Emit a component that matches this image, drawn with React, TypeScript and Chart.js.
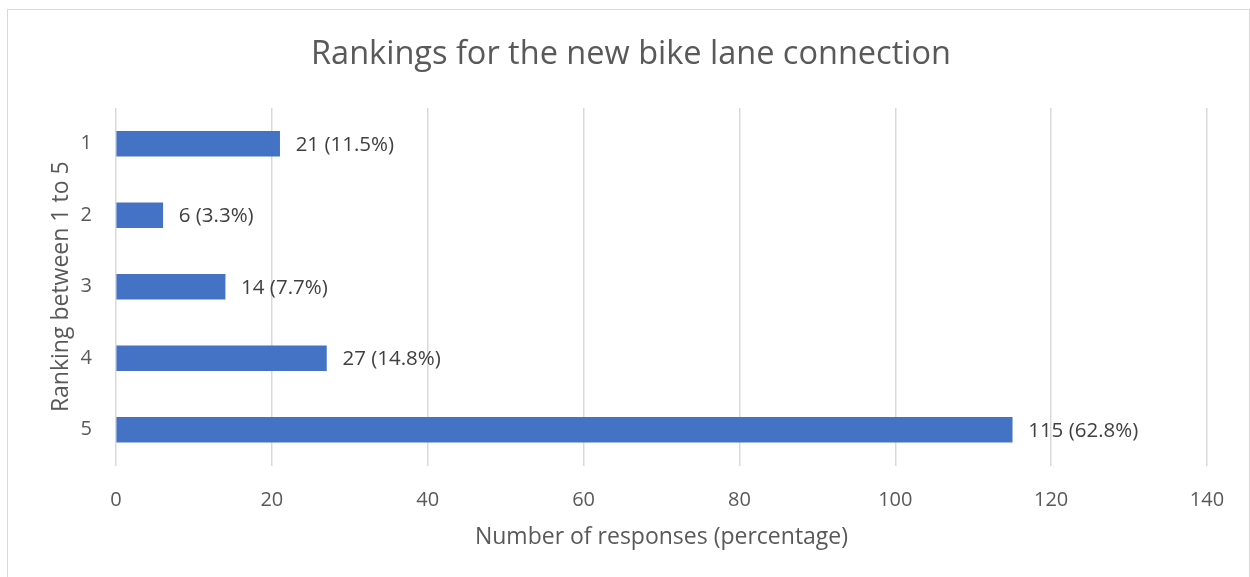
import React, { useEffect, useRef } from "react";
import { Chart, registerables } from "chart.js";

Chart.register(...registerables);

const categories = ["1", "2", "3", "4", "5"];
const responses = [21, 6, 14, 27, 115];
const percentages = ["11.5%", "3.3%", "7.7%", "14.8%", "62.8%"];
const xTicks = [0, 20, 40, 60, 80, 100, 120, 140];
const chartTitle = "Rankings for the new bike lane connection";

const FONT = "'Open Sans', Lato, sans-serif";
const TEXT = "#595959";

const W = 1250;
const H = 577;
const AREA_LEFT = 116;
const AREA_RIGHT = 1207;
const AREA_TOP = 108;
const AREA_BOTTOM = 465.5;

const borderPlugin = {
  id: "outerBorder",
  beforeDraw(chart: any) {
    const ctx = chart.ctx;
    ctx.save();
    ctx.fillStyle = "#ffffff";
    ctx.fillRect(0, 0, chart.width, chart.height);
    ctx.strokeStyle = "#d9d9d9";
    ctx.lineWidth = 1;
    ctx.strokeRect(7.5, 9.5, chart.width - 8, chart.height + 10);
    ctx.restore();
  },
  afterDraw(chart: any) {
    const ctx = chart.ctx;
    ctx.save();
    ctx.font = `32.5px ${FONT}`;
    ctx.fillStyle = TEXT;
    ctx.textAlign = "center";
    ctx.textBaseline = "middle";
    ctx.fillText(chartTitle, 631, 55);
    ctx.restore();
  },
};

const labelPlugin = {
  id: "barLabels",
  afterDatasetsDraw(chart: any) {
    const ctx = chart.ctx;
    const meta = chart.getDatasetMeta(0);
    ctx.save();
    ctx.font = `20.5px ${FONT}`;
    ctx.fillStyle = "#404040";
    ctx.textAlign = "left";
    ctx.textBaseline = "middle";
    meta.data.forEach((bar: any, i: number) => {
      ctx.fillText(`${responses[i]} (${percentages[i]})`, bar.x + 16, bar.y + 1);
    });
    ctx.restore();
  },
};

export default function App() {
  const ref = useRef<HTMLCanvasElement>(null);
  useEffect(() => {
    if (!ref.current) return;
    const chart = new Chart(ref.current, {
      type: "bar",
      data: {
        labels: categories,
        datasets: [
          {
            data: responses,
            backgroundColor: "#4472C4",
            borderWidth: 0,
            barThickness: 25,
          },
        ],
      },
      plugins: [borderPlugin, labelPlugin],
      options: {
        indexAxis: "y",
        animation: false,
        responsive: false,
        maintainAspectRatio: false,
        layout: { padding: { top: AREA_TOP, left: 0, right: W - AREA_RIGHT, bottom: 0 } },
        plugins: {
          legend: { display: false },
          tooltip: { enabled: false },
          title: { display: false },
        },
        scales: {
          x: {
            min: 0,
            max: 140,
            afterBuildTicks: (scale: any) => {
              scale.ticks = xTicks.map((v) => ({ value: v }));
            },
            afterFit: (scale: any) => {
              scale.height = H - AREA_BOTTOM;
            },
            grid: { color: "#d9d9d9", lineWidth: 1.5, drawTicks: false },
            border: { display: false },
            ticks: {
              color: TEXT,
              padding: 23,
              font: { family: FONT, size: 20 },
            },
            title: {
              display: true,
              text: "Number of responses (percentage)",
              color: TEXT,
              font: { family: FONT, size: 23 },
              padding: { top: 0, bottom: 26 },
            },
          },
          y: {
            afterFit: (scale: any) => {
              scale.width = AREA_LEFT;
            },
            grid: { display: false, drawTicks: false },
            border: { display: false },
            ticks: {
              color: TEXT,
              padding: 24,
              font: { family: FONT, size: 20 },
            },
            title: {
              display: true,
              text: "Ranking between 1 to 5",
              color: TEXT,
              font: { family: FONT, size: 23 },
              padding: { top: 48, bottom: 0 },
            },
          },
        },
      },
    });
    return () => chart.destroy();
  }, []);
  return (
    <div style={{ position: "fixed", left: 0, top: 0, width: W, height: H }}>
      <canvas ref={ref} width={W} height={H} style={{ width: W, height: H, display: "block" }} />
    </div>
  );
}
